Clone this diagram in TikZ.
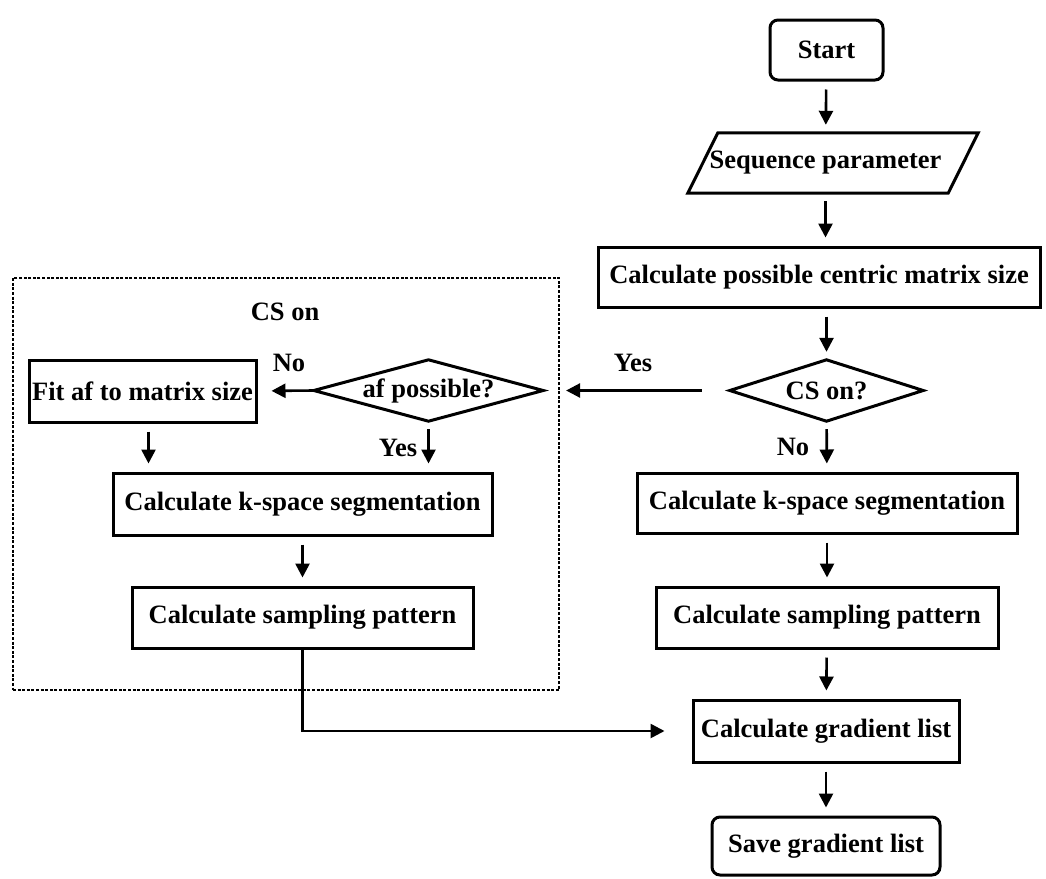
\documentclass[tikz,border=0pt]{standalone}
\usepackage{fontspec}
\setmainfont{Liberation Serif}
\usetikzlibrary{arrows.meta}
\begin{document}
\begin{tikzpicture}[x=1pt,y=-1pt,
  font=\fontsize{26.5}{31}\selectfont\bfseries,
  box/.style={draw, line width=3pt, inner sep=0pt, align=center},
  term/.style={box, rounded corners=8pt},
  ghost/.style={inner sep=0pt},
  outline/.style={line width=3pt, line join=miter},
  flow/.style={line width=2.6pt, -{Triangle[length=14pt,width=14pt]}, shorten <=8pt, shorten >=8pt},
  lbl/.style={inner sep=0pt}]
\useasboundingbox (0,0) rectangle (1046,878);

% dashed frame of the CS branch
\node (csbox) [draw, dash pattern=on 3pt off 1.6pt, line width=2.2pt, inner sep=0pt,
  minimum width=546, minimum height=412] at (286,484) {};
\node (cslabel) [lbl] at (285,312) {CS on};

% main column
\node (start) [term, minimum width=113, minimum height=60] at (826.5,50) {Start};
\node (seq) [ghost, minimum width=245, minimum height=60] at (825.5,163) {Sequence parameter};
\draw [outline] ([xshift=15]seq.north west) -- ([xshift=30]seq.north east)
  -- ([xshift=0]seq.south east) -- ([xshift=-15]seq.south west) -- cycle;
\node (matrix) [box, minimum width=442, minimum height=60] at (819,277) {Calculate possible centric matrix size};
\node (cs) [ghost, minimum width=193, minimum height=61] at (826.5,390.5) {CS on?};
\draw [outline] (cs.north) -- (cs.east) -- (cs.south) -- (cs.west) -- cycle;
\node (kr) [box, minimum width=380, minimum height=60] at (827,503) {Calculate k-space segmentation};
\node (sr) [box, minimum width=342, minimum height=61] at (827,617.5) {Calculate sampling pattern};
\node (grad) [box, minimum width=266, minimum height=62] at (826,731) {Calculate gradient list};
\node (save) [term, minimum width=228, minimum height=58] at (826,846) {Save gradient list};

% CS branch
\node (af) [ghost, minimum width=229, minimum height=61] at (428.5,390.5) {af possible?};
\draw [outline] (af.north) -- (af.east) -- (af.south) -- (af.west) -- cycle;
\node (fit) [box, minimum width=227, minimum height=62] at (142.5,391) {Fit af to matrix size};
\node (kl) [box, minimum width=379, minimum height=62] at (302.5,504) {Calculate k-space segmentation};
\node (sl) [box, minimum width=341, minimum height=61] at (302.5,617.5) {Calculate sampling pattern};

% connectors of the main column
\draw [flow] (start) -- (seq);
\draw [flow] (seq) -- (seq |- matrix.north);
\draw [flow] (matrix.south -| cs) -- (cs);
\draw [flow] (cs) -- (kr);
\draw [flow] (kr) -- (sr);
\draw [flow] (sr) -- (grad);
\draw [flow] (grad) -- (save);
\node (yes1) [lbl] at (633,363) {Yes};
\node (no1) [lbl] at (793,447) {No};

% connectors of the CS branch
\draw [flow, shorten <=28pt, shorten >=6pt] (cs.west) -- (cs.west -| csbox.east);
\draw [flow, shorten <=0pt, shorten >=14pt] (af.west) -- (fit.east);
\node (no2) [lbl] at (289,363) {No};
\draw [flow] ([xshift=6]fit.south) -- ([xshift=6]fit.south |- kl.north);
\draw [flow] (af.south) -- (af.south |- kl.north);
\node (yes2) [lbl] at (398,448) {Yes};
\draw [flow] (kl) -- (sl);
\coordinate (bend) at (sl.south |- grad.west);
\draw [flow, shorten <=0pt, shorten >=27pt] (sl.south) -- (bend) -- (grad.west);
\end{tikzpicture}
\end{document}
